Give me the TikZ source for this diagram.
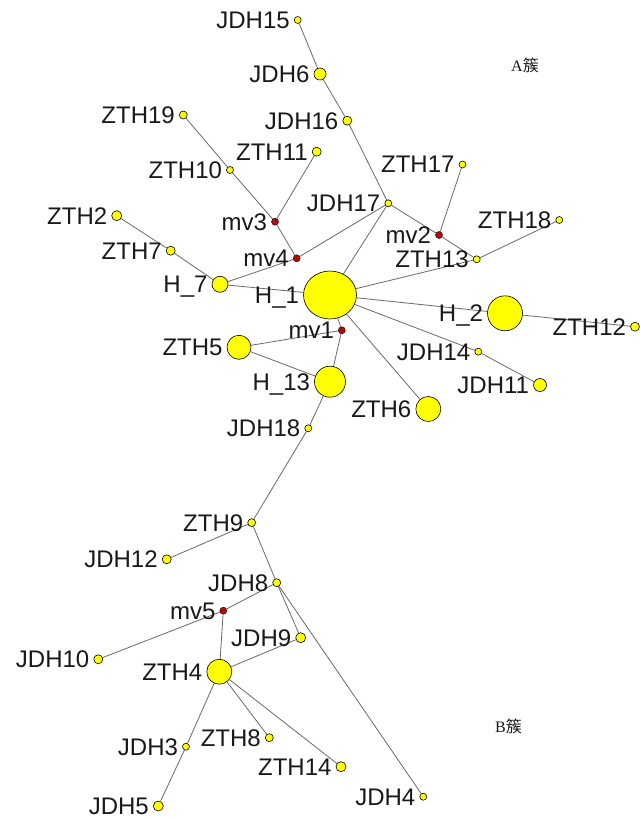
\documentclass[tikz,border=0pt]{standalone}
\usepackage{fontspec}
\setmainfont{Liberation Sans}
\newfontfamily\serifA{Liberation Serif}
\newfontfamily\cjk{Noto Sans CJK SC}
\usetikzlibrary{backgrounds,shapes.geometric}
\definecolor{ny}{RGB}{255,255,0}
\definecolor{nr}{RGB}{175,12,12}
\definecolor{eg}{RGB}{105,105,105}
\definecolor{tx}{RGB}{25,25,25}
\begin{document}
\begin{tikzpicture}[x=1pt,y=-1pt,
  lab/.style={font=\fontsize{24}{28}\selectfont, text height=17pt, text depth=0pt, inner sep=0pt, text=tx, label distance=4pt},
  yn/.style={circle, draw=black, line width=0.6pt, fill=ny, inner sep=0pt, minimum size=#1},
  rn/.style={circle, draw=black!70!nr, line width=0.5pt, fill=nr, inner sep=0pt, minimum size=7pt},
  edge/.style={draw=eg, line width=0.8pt},
  clus/.style={font=\fontsize{16}{18}\selectfont, inner sep=0pt, anchor=west, text=tx}]
\useasboundingbox (0,0) rectangle (639,818);
% nodes
\node[yn=7pt, label={[lab]left:JDH15}] (JDH15) at (297.7,20) {};
\node[yn=12pt, label={[lab]left:JDH6}] (JDH6) at (320,74) {};
\node[yn=9pt, label={[lab]left:JDH16}] (JDH16) at (347.3,120.7) {};
\node[yn=8pt, label={[lab]left:ZTH19}] (ZTH19) at (183.3,115) {};
\node[yn=9pt, label={[lab]left:ZTH11}] (ZTH11) at (316.7,151.7) {};
\node[yn=7pt, label={[lab]left:ZTH10}] (ZTH10) at (230,170) {};
\node[yn=7pt, label={[lab]left:ZTH17}] (ZTH17) at (462.5,164.5) {};
\node[yn=10pt, label={[lab]left:ZTH2}] (ZTH2) at (116.7,215.7) {};
\node[rn, label={[lab]left:mv3}] (mv3) at (275,221.7) {};
\node[yn=7pt, label={[lab]left:JDH17}] (JDH17) at (388.3,203.3) {};
\node[rn, label={[lab]left:mv2}] (mv2) at (439,235) {};
\node[yn=7pt, label={[lab]left:ZTH18}] (ZTH18) at (559.3,220) {};
\node[yn=9pt, label={[lab]left:ZTH7}] (ZTH7) at (170.7,250.7) {};
\node[rn, label={[lab]left:mv4}] (mv4) at (296.7,258.3) {};
\node[yn=7pt, label={[lab]left:ZTH13}] (ZTH13) at (476.7,259.3) {};
\node[yn=16pt, label={[lab]left:H\_7}] (H7) at (220,284.3) {};
\node[ellipse, draw=black, line width=0.6pt, fill=ny, inner sep=0pt, minimum width=53pt, minimum height=48pt, label={[lab]left:H\_1}] (H1) at (330,295) {};
\node[yn=35pt, label={[lab]left:H\_2}] (H2) at (505,313.3) {};
\node[yn=9pt, label={[lab]left:ZTH12}] (ZTH12) at (635,326.7) {};
\node[rn, label={[lab]left:mv1}] (mv1) at (341.8,330.3) {};
\node[yn=24pt, label={[lab]left:ZTH5}] (ZTH5) at (239,347.3) {};
\node[yn=7pt, label={[lab]left:JDH14}] (JDH14) at (478.3,351.7) {};
\node[yn=31pt, label={[lab]left:H\_13}] (H13) at (330,381.7) {};
\node[yn=13pt, label={[lab]left:JDH11}] (JDH11) at (540,385) {};
\node[yn=25pt, label={[lab]left:ZTH6}] (ZTH6) at (428.3,409) {};
\node[yn=7pt, label={[lab]left:JDH18}] (JDH18) at (308.3,428.3) {};
\node[yn=8pt, label={[lab]left:ZTH9}] (ZTH9) at (251.7,522.7) {};
\node[yn=9pt, label={[lab]left:JDH12}] (JDH12) at (166.7,559.3) {};
\node[yn=8pt, label={[lab]left:JDH8}] (JDH8) at (276.7,582.7) {};
\node[rn, label={[lab]left:mv5}] (mv5) at (223.3,610.7) {};
\node[yn=10pt, label={[lab]left:JDH9}] (JDH9) at (300.7,637.7) {};
\node[yn=9pt, label={[lab]left:JDH10}] (JDH10) at (98.3,659.3) {};
\node[yn=25pt, label={[lab]left:ZTH4}] (ZTH4) at (219.3,671.7) {};
\node[yn=7pt, label={[lab]left:JDH3}] (JDH3) at (186,746.7) {};
\node[yn=8pt, label={[lab]left:ZTH8}] (ZTH8) at (269.3,737.7) {};
\node[yn=10pt, label={[lab]left:ZTH14}] (ZTH14) at (341,766.7) {};
\node[yn=7pt, label={[lab]left:JDH4}] (JDH4) at (423.3,796.7) {};
\node[yn=10pt, label={[lab]left:JDH5}] (JDH5) at (158.3,806) {};
% cluster titles
\node[clus] (cA) at (511,65) {{\serifA A}{\cjk 簇}};
\node[clus] (cB) at (495,726) {{\serifA B}{\cjk 簇}};
% edges
\begin{pgfonlayer}{background}
\path[edge] (JDH15) -- (JDH6);
\path[edge] (JDH6) -- (JDH16);
\path[edge] (JDH16) -- (JDH17);
\path[edge] (ZTH19) -- (ZTH10);
\path[edge] (ZTH10) -- (mv3);
\path[edge] (ZTH11) -- (mv3);
\path[edge] (mv3) -- (mv4);
\path[edge] (mv4) -- (JDH17);
\path[edge] (mv4) -- (H7);
\path[edge] (ZTH2) -- (ZTH7);
\path[edge] (ZTH7) -- (H7);
\path[edge] (H7) -- (H1);
\path[edge] (H1) -- (JDH17);
\path[edge] (JDH17) -- (mv2);
\path[edge] (mv2) -- (ZTH17);
\path[edge] (mv2) -- (ZTH13);
\path[edge] (ZTH13) -- (ZTH18);
\path[edge] (H1) -- (ZTH13);
\path[edge] (H1) -- (H2);
\path[edge] (H2) -- (ZTH12);
\path[edge] (H1) -- (JDH14);
\path[edge] (JDH14) -- (JDH11);
\path[edge] (H1) -- (ZTH6);
\path[edge] (H1) -- (mv1);
\path[edge] (mv1) -- (ZTH5);
\path[edge] (mv1) -- (H13);
\path[edge] (ZTH5) -- (H13);
\path[edge] (H13) -- (JDH18);
\path[edge] (JDH18) -- (ZTH9);
\path[edge] (ZTH9) -- (JDH12);
\path[edge] (ZTH9) -- (JDH8);
\path[edge] (JDH8) -- (JDH9);
\path[edge] (JDH8) -- (JDH4);
\path[edge] (JDH8) -- (mv5);
\path[edge] (mv5) -- (JDH10);
\path[edge] (mv5) -- (ZTH4);
\path[edge] (ZTH4) -- (JDH9);
\path[edge] (ZTH4) -- (JDH3);
\path[edge] (JDH3) -- (JDH5);
\path[edge] (ZTH4) -- (ZTH8);
\path[edge] (ZTH4) -- (ZTH14);
\end{pgfonlayer}
\end{tikzpicture}
\end{document}
